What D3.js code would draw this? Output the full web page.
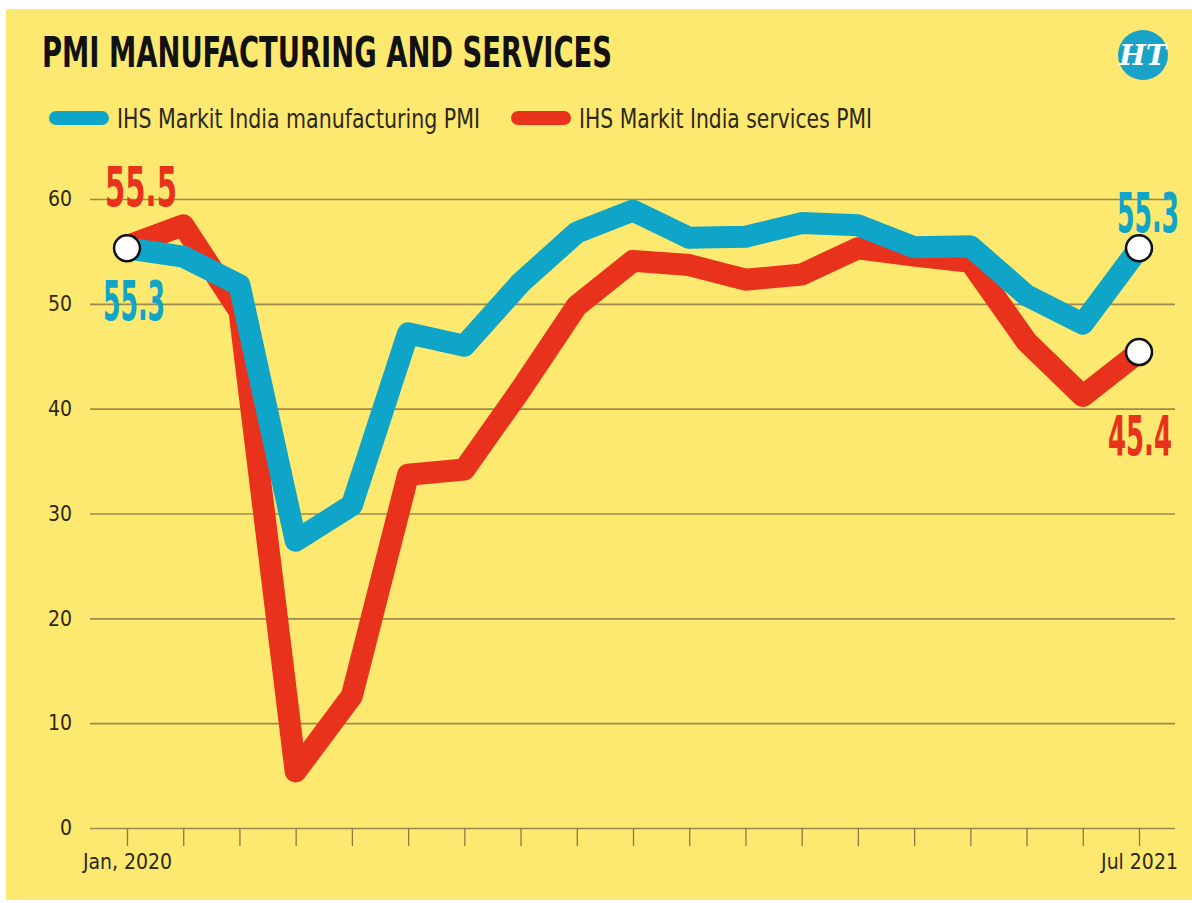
<!DOCTYPE html>
<html>
<head>
<meta charset="utf-8">
<script src="https://cdn.jsdelivr.net/npm/d3@7"></script>
<style>
  body { margin: 0; background: #fff; }
  svg { display: block; }
  text { font-family: "Liberation Sans Narrow", "DejaVu Sans Condensed", "Roboto", sans-serif; fill: #2e2717; }
</style>
</head>
<body>
<div id="chart"></div>
<script>
const width = 1192
const height = 903

const months = ["Jan 2020", "Feb 2020", "Mar 2020", "Apr 2020", "May 2020", "Jun 2020", "Jul 2020", "Aug 2020", "Sep 2020", "Oct 2020",
    "Nov 2020", "Dec 2020", "Jan 2021", "Feb 2021", "Mar 2021", "Apr 2021", "May 2021", "Jun 2021", "Jul 2021"]
const manufacturing = [55.3, 54.5, 51.8, 27.4, 30.8, 47.2, 46.0, 52.0, 56.8, 58.9, 56.3, 56.4, 57.7, 57.5, 55.4, 55.5, 50.8, 48.1, 55.3]
const services = [55.5, 57.5, 49.3, 5.4, 12.6, 33.7, 34.2, 41.8, 49.8, 54.1, 53.7, 52.3, 52.8, 55.3, 54.6, 54.0, 46.4, 41.2, 45.4]
const yTicks = [0, 10, 20, 30, 40, 50, 60]
const xLabels = { "Jan 2020": "Jan, 2020", "Jul 2021": "Jul 2021" }

const blue = "#0fa5c9"
const red = "#e8321c"

const svg = d3.select("div#chart").append("svg").attr("width", width).attr("height", height)

// yellow panel
svg.append("rect").attr("x", 6).attr("y", 9).attr("width", width - 6).attr("height", 891).attr("fill", "#fde96f")

const x = d3.scalePoint().domain(months).range([127, 1139])
const y = d3.scaleLinear().domain([0, 60]).range([828, 199])

// gridlines + y labels
const yAxisGroup = svg.append("g").attr("transform", "translate(90,0)")
    .call(d3.axisLeft(y).tickValues(yTicks).tickSize(-1085).tickPadding(18))
yAxisGroup.select(".domain").remove()
yAxisGroup.selectAll(".tick line").attr("stroke", "#9c8a4c").attr("stroke-width", 1.6)
yAxisGroup.selectAll(".tick text").attr("font-size", 21).attr("fill", "#2e2717")

// x ticks
const xAxisGroup = svg.append("g").attr("transform", "translate(0,828)")
    .call(d3.axisBottom(x).tickSize(18).tickPadding(8).tickFormat(d => xLabels[d] || ""))
xAxisGroup.select(".domain").remove()
xAxisGroup.selectAll(".tick line").attr("stroke", "#8a7a45").attr("stroke-width", 1.3)
xAxisGroup.selectAll(".tick text").attr("font-size", 21).attr("fill", "#2e2717")

// lines
const line = d3.line().x((d, i) => x(months[i])).y(d => y(d))
svg.append("path").datum(services).attr("d", line)
    .attr("fill", "none").attr("stroke", red).attr("stroke-width", 22).attr("stroke-linejoin", "round")
svg.append("path").datum(manufacturing).attr("d", line)
    .attr("fill", "none").attr("stroke", blue).attr("stroke-width", 22).attr("stroke-linejoin", "round")

// end markers
const last = months.length - 1
const markers = [
    [months[0], manufacturing[0]],
    [months[last], manufacturing[last]],
    [months[last], services[last]],
]
svg.selectAll("circle.marker").data(markers).enter().append("circle")
    .attr("class", "marker")
    .attr("cx", d => x(d[0])).attr("cy", d => y(d[1])).attr("r", 13)
    .attr("fill", "#fff").attr("stroke", "#111").attr("stroke-width", 2.5)

// value labels (squeezed horizontally with a scale so the box stays true)
const labels = [
    { text: services[0].toFixed(1), x: x(months[0]) + 14, y: y(services[0]) - 40, color: red, w: 72 },
    { text: manufacturing[0].toFixed(1), x: x(months[0]) + 7, y: y(manufacturing[0]) + 72, color: blue, w: 62 },
    { text: manufacturing[last].toFixed(1), x: x(months[last]) + 9, y: y(manufacturing[last]) - 16, color: blue, w: 62 },
    { text: services[last].toFixed(1), x: x(months[last]) + 1, y: y(services[last]) + 103, color: red, w: 64 },
]
svg.selectAll("text.value").data(labels).enter().append("text")
    .attr("class", "value")
    .attr("text-anchor", "middle")
    .attr("font-size", 55).attr("font-weight", "bold")
    .style("fill", d => d.color)
    .text(d => d.text)
    .attr("transform", function(d) {
        const sx = d.w / this.getComputedTextLength()
        return `translate(${d.x},${d.y}) scale(${sx},1)`
    })

// title
svg.append("text").attr("x", 42).attr("y", 67)
    .attr("font-size", 43).attr("font-weight", "bold")
    .attr("textLength", 570).attr("lengthAdjust", "spacingAndGlyphs")
    .style("fill", "#111")
    .text("PMI MANUFACTURING AND SERVICES")

// legend
const legend = [
    { label: "IHS Markit India  manufacturing PMI", color: blue, x: 50, w: 363 },
    { label: "IHS Markit India  services PMI", color: red, x: 512, w: 293 },
]
const lg = svg.append("g").selectAll("g").data(legend).enter().append("g")
lg.append("line").attr("x1", d => d.x + 6).attr("x2", d => d.x + 52).attr("y1", 118).attr("y2", 118)
    .attr("stroke", d => d.color).attr("stroke-width", 14).attr("stroke-linecap", "round")
lg.append("text").attr("x", d => d.x + 67).attr("y", 128)
    .attr("font-size", 27)
    .attr("textLength", d => d.w).attr("lengthAdjust", "spacingAndGlyphs")
    .style("fill", "#2e2717")
    .text(d => d.label)

// HT logo
const logo = svg.append("g").attr("transform", "translate(1143,55)")
logo.append("circle").attr("r", 25).attr("fill", "#1aa3c8")
logo.append("text").attr("y", 10).attr("text-anchor", "middle")
    .attr("font-size", 28).attr("font-weight", "bold").attr("font-style", "italic")
    .style("font-family", "'DejaVu Serif', serif").style("fill", "#fff")
    .text("HT")
</script>
</body>
</html>
